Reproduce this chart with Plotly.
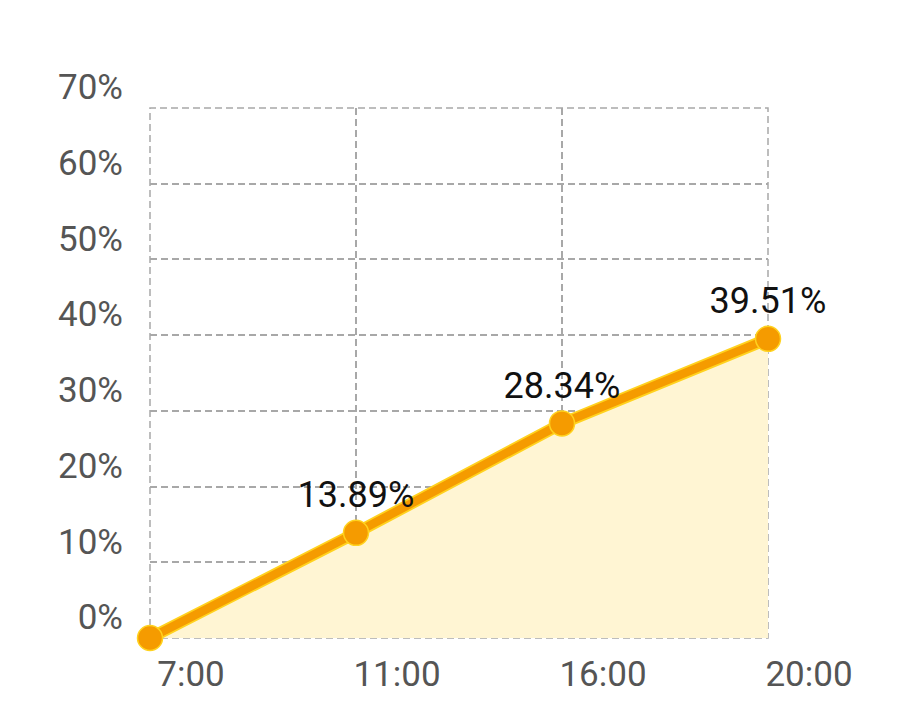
import plotly.graph_objects as go

categories = ["7:00", "11:00", "16:00", "20:00"]
values = [0, 13.89, 28.34, 39.51]
labels = ["", "13.89%", "28.34%", "39.51%"]
y_ticks = [0, 10, 20, 30, 40, 50, 60, 70]
y_tick_text = [f"{v}%" for v in y_ticks]

xs = list(range(len(categories)))

fig = go.Figure()
# fill + yellow outline line
fig.add_trace(go.Scatter(
    x=xs, y=values, mode="lines", fill="tozeroy",
    fillcolor="#FFF5D3", line=dict(color="#FFD21F", width=12),
    cliponaxis=False, hoverinfo="skip", showlegend=False))
# orange line + markers + labels
fig.add_trace(go.Scatter(
    x=xs, y=values, mode="lines+markers+text",
    line=dict(color="#F59B00", width=8.5),
    marker=dict(size=25, color="#F59B00", line=dict(color="#FFD21F", width=1.5)),
    text=labels, textposition="top center",
    textfont=dict(family="Roboto", size=36, color="#111111"),
    cliponaxis=False, showlegend=False))

dash = "7px,4px"
grid_style = dict(color="#A8A8A8", width=1.5, dash=dash)
# dashed frame around the plot area (edge gridlines)
fig.add_shape(type="rect", xref="paper", yref="paper", x0=0, x1=1, y0=0, y1=1,
              line=grid_style, layer="below")

fig.update_layout(
    width=917, height=725,
    margin=dict(l=142, r=157, t=100, b=95, autoexpand=False),
    paper_bgcolor="white", plot_bgcolor="rgba(0,0,0,0)",
    font=dict(family="Roboto", color="#555555", size=35),
)
fig.update_xaxes(
    range=[0, 3], tickvals=xs, ticktext=categories, automargin=False,
    showgrid=True, gridcolor="#A8A8A8", griddash=dash, gridwidth=1.5,
    zeroline=False, showline=False, ticks="",
    ticklabelshift=41, ticklabelstandoff=12,
    tickfont=dict(family="Roboto", size=35, color="#555555"),
)
fig.update_yaxes(
    range=[0, 70], tickvals=y_ticks, ticktext=y_tick_text, automargin=False,
    showgrid=True, gridcolor="#A8A8A8", griddash=dash, gridwidth=1.5,
    zeroline=False, showline=False, ticks="",
    ticklabelshift=-21, ticklabelstandoff=26,
    tickfont=dict(family="Roboto", size=35, color="#555555"),
)

fig.write_html("out.html")
